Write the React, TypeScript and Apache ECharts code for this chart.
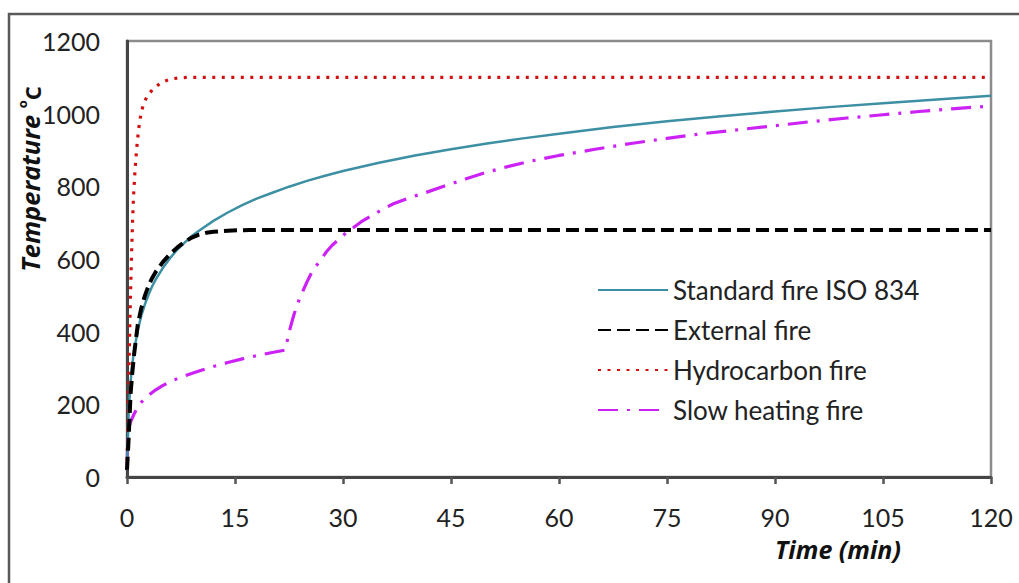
import React, { useEffect, useRef } from "react";
import * as echarts from "echarts";

const seriesNames = ["Standard fire ISO 834", "External fire", "Hydrocarbon fire", "Slow heating fire"];

const xTicks = [0, 15, 30, 45, 60, 75, 90, 105, 120];
const yTicks = [0, 200, 400, 600, 800, 1000, 1200];

const isoFire: [number, number][] = [
  [0, 20], [0.25, 185], [0.5, 261], [0.75, 312], [1, 349], [1.5, 404], [2, 445], [2.5, 476], [3, 502],
  [3.5, 525], [4, 544], [5, 576], [6, 603], [7, 626], [8, 645], [9, 663], [10, 678], [12, 705],
  [14, 728], [16, 748], [18, 766], [20, 781], [22.5, 799], [25, 815], [27.5, 829], [30, 842],
  [35, 865], [40, 885], [45, 902], [50, 918], [55, 932], [60, 945], [67.5, 963], [75, 979],
  [82.5, 993], [90, 1006], [97.5, 1018], [105, 1029], [112.5, 1039], [120, 1049],
];

const externalFire: [number, number][] = [
  [0, 20], [0.2, 95], [0.5, 230], [0.75, 290], [1, 340], [1.5, 420], [2, 466], [2.5, 500], [3, 527],
  [3.5, 548], [4, 565], [5, 592], [6, 614], [7, 632], [8, 647], [9, 659], [10, 667], [11, 672],
  [12, 675], [14, 678], [17, 680], [120, 680],
];

const hydrocarbonFire: [number, number][] = [
  [0, 20], [0.15, 180], [0.3, 330], [0.45, 470], [0.6, 590], [0.75, 690], [0.9, 770], [1.1, 840],
  [1.35, 905], [1.6, 955], [1.9, 995], [2.2, 1020], [2.6, 1040], [3, 1053], [3.5, 1065], [4, 1074],
  [4.6, 1083], [5.3, 1090], [6, 1095], [7, 1098], [8.5, 1100], [120, 1100],
];

const slowFire: [number, number][] = [
  [0, 20], [0.1, 100], [0.25, 135], [0.5, 152], [0.75, 163], [1, 174], [1.5, 193], [2, 206], [3, 225],
  [4, 240], [5, 252], [6, 262], [7, 271], [8, 278], [10, 292], [12, 304], [14, 315], [16, 325],
  [18, 334], [20, 342], [21.9, 349], [22.2, 370], [22.6, 405], [23.1, 441], [23.6, 473], [24.1, 497],
  [24.5, 515], [25, 537], [25.6, 561], [26.1, 576], [26.6, 590], [27.2, 606], [27.7, 620], [28.5, 638],
  [29.3, 652], [30, 665], [31.2, 683], [32.5, 702], [34, 720], [35.5, 737], [37, 752], [39, 767],
  [41.5, 783], [44, 800], [47, 820], [50, 839], [53, 855], [56, 869], [60, 885], [65, 902], [70, 918],
  [75, 932], [80, 945], [85, 956], [90, 967], [95, 978], [100, 988], [105, 997], [110, 1006],
  [115, 1014], [120, 1021],
];

const FONT = "Lato";
const NAME_FONT = "Open Sans";

export default function App() {
  const ref = useRef<HTMLDivElement>(null);
  useEffect(() => {
    if (!ref.current) return;
    const chart = echarts.init(ref.current, null, { renderer: "svg" });
    const lineBase = { type: "line", showSymbol: false, symbol: "none", smooth: false };
    chart.setOption({
      animation: false,
      backgroundColor: "#ffffff",
      grid: {
        left: 127, top: 41, right: 28, bottom: 106,
        show: true, borderColor: "#8c8c8c", borderWidth: 2.5, backgroundColor: "transparent",
      },
      xAxis: {
        type: "value", min: 0, max: 120, interval: 15,
        axisLine: { show: true, onZero: false, lineStyle: { color: "#454545", width: 3 } },
        axisTick: { show: true, length: 7, lineStyle: { color: "#555", width: 2.5 } },
        splitLine: { show: false },
        axisLabel: {
          margin: 27, fontFamily: FONT, fontSize: 25, color: "#222",
          formatter: (v: number) => (xTicks.includes(v) ? String(v) : ""),
        },
      },
      yAxis: {
        type: "value", min: 0, max: 1200, interval: 200,
        axisLine: { show: true, lineStyle: { color: "#454545", width: 3 } },
        axisTick: { show: false },
        splitLine: { show: false },
        axisLabel: {
          margin: 27, fontFamily: FONT, fontSize: 25, color: "#222",
          formatter: (v: number) => (yTicks.includes(v) ? String(v) : ""),
        },
      },
      legend: {
        orient: "vertical", left: 597, top: 277, padding: 0,
        itemWidth: 70, itemHeight: 14, itemGap: 14,
        data: seriesNames,
        itemStyle: { opacity: 0 },
        textStyle: { fontFamily: FONT, fontSize: 26, color: "#222", lineHeight: 26 },
      },
      graphic: [
        {
          type: "rect", silent: true, z: -1,
          shape: { x: 9, y: 14, width: 1030, height: 600 },
          style: { fill: "none", stroke: "#595959", lineWidth: 2.5 },
        },
        {
          type: "text", x: 29, y: 179, rotation: Math.PI / 2,
          style: {
            text: "{a|Temperature }{s|o}{c|C}",
            align: "center", verticalAlign: "middle",
            rich: {
              a: { fontFamily: NAME_FONT, fontSize: 25.5, fontWeight: "bold", fontStyle: "italic", fill: "#111", lineHeight: 28, verticalAlign: "bottom" },
              s: { fontFamily: NAME_FONT, fontSize: 13, fontWeight: "bold", fill: "#111", lineHeight: 28, verticalAlign: "top" },
              c: { fontFamily: NAME_FONT, fontSize: 22, fontWeight: "bold", fill: "#111", lineHeight: 28, verticalAlign: "bottom" },
            },
          },
        },
        {
          type: "text", x: 838, y: 549,
          style: {
            text: "Time (min)", align: "center", verticalAlign: "middle", lineHeight: 26,
            fontFamily: NAME_FONT, fontSize: 25, fontWeight: "bold", fontStyle: "italic", fill: "#111",
          },
        },
      ],
      series: [
        { ...lineBase, name: seriesNames[0], data: isoFire, z: 3, lineStyle: { color: "#3d8fa3", width: 2.5, type: "solid" } },
        { ...lineBase, name: seriesNames[1], data: externalFire, z: 4, lineStyle: { color: "#000000", width: 4, type: [13, 6] } },
        { ...lineBase, name: seriesNames[2], data: hydrocarbonFire, z: 2, lineStyle: { color: "#d11010", width: 3.2, type: [3, 6.5] } },
        { ...lineBase, name: seriesNames[3], data: slowFire, z: 2, lineStyle: { color: "#cc22f5", width: 3.2, type: [20, 9, 3, 9] } },
      ],
    });
    return () => chart.dispose();
  }, []);
  return (
    <div
      ref={ref}
      style={{ position: "absolute", left: 0, top: 0, width: 1019, height: 583, background: "#fff" }}
    />
  );
}
